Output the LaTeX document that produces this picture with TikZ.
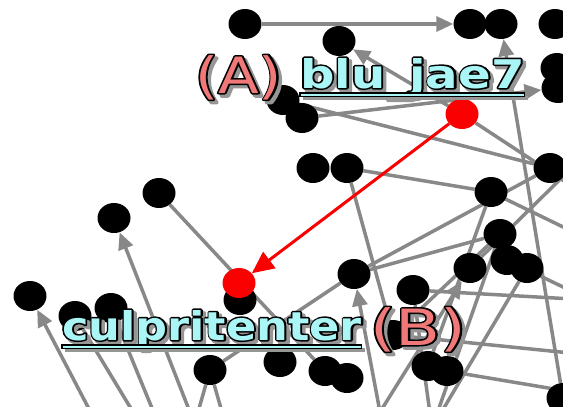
\documentclass[tikz,border=0pt]{standalone}
\usepackage{fontspec}
\usepackage{graphicx}
\setmainfont{DejaVu Sans}
\usetikzlibrary{shapes.geometric,arrows.meta}
\definecolor{edgegray}{RGB}{136,136,136}
\definecolor{hotred}{RGB}{250,0,0}
\definecolor{salmon}{RGB}{240,120,120}
\definecolor{lightcyan}{RGB}{170,245,245}
\definecolor{shadowgray}{RGB}{150,150,150}
\pgfdeclarelayer{edgelayer}
\pgfsetlayers{edgelayer,main}
% text with an outline outside the letters: #1 stroke grey level, #2 stroke width, #3 text
\newcommand\strk[3]{\rlap{\special{pdf:literal direct #1 G #2 w 1 j 1 Tr}#3\special{pdf:literal direct 0 Tr}}#3}
\newcommand\glowlabel[5]{%
  \node[lbl,text=shadowgray] (#1s) at ({#2+3},{#3+3}) {\strk{0.59}{3.6}{#5}};
  \node[lbl,text=#4] (#1) at (#2,#3) {\strk{0}{3.0}{#5}};
}
\newcommand\ulabel[5]{%
  \glowlabel{#1}{#2}{#3}{#4}{#5}
  \fill[shadowgray] ([shift={(3,8)}]#1.base west) rectangle ([shift={(3,12)}]#1.base east);
  \filldraw[fill=#4,draw=black,line width=1.3pt] ([shift={(0,5)}]#1.base west) rectangle ([shift={(0,8.5)}]#1.base east);
}
\begin{document}
\begin{tikzpicture}[x=1pt,y=-1pt,
  dot/.style={ellipse,fill=black,minimum width=33pt,minimum height=30pt,inner sep=0pt},
  reddot/.style={dot,fill=hotred},
  link/.style={draw=edgegray,line width=3.5pt},
  arr/.style={link,-{Triangle[length=17pt,width=15pt]}},
  redarr/.style={draw=hotred,line width=3pt,-{Triangle[length=22pt,width=20pt]}},
  lbl/.style={inner sep=0pt,outer sep=0pt,anchor=base west}]
\useasboundingbox (0,0) rectangle (563,407);
% nodes
\node[dot] (n1) at (245,24) {};
\node[dot] (n2) at (470,24) {};
\node[dot] (n3) at (501,24) {};
\node[dot] (n4) at (555,24) {};
\node[dot] (n5) at (339,41) {};
\node[dot] (n6) at (557,68) {};
\node[dot] (n7) at (558,88) {};
\node[dot] (n8) at (283,100) {};
\node[dot] (n9) at (302,118) {};
\node[reddot] (A) at (462,114) {};
\node[dot] (n10) at (313,168) {};
\node[dot] (n11) at (347,168) {};
\node[dot] (n12) at (159,193) {};
\node[dot] (n13) at (114,218) {};
\node[dot] (n15) at (550,168) {};
\node[dot] (n14) at (491,192) {};
\node[dot] (n16) at (500,234) {};
\node[dot] (n17) at (507,260) {};
\node[dot] (n18) at (527,268) {};
\node[dot] (n19) at (470,268) {};
\node[dot] (n20) at (354,274) {};
\node[dot] (n21) at (240,300) {};
\node[reddot] (B) at (239,283) {};
\node[dot] (n22) at (30,296) {};
\node[dot] (n23) at (75,316) {};
\node[dot] (n24) at (111,308) {};
\node[dot] (n25) at (413,290) {};
\node[dot] (n26) at (393,335) {};
\node[dot] (n27) at (210,370) {};
\node[dot] (n28) at (280,362) {};
\node[dot] (n29) at (325,371) {};
\node[dot] (n30) at (347,378) {};
\node[dot] (n31) at (428,366) {};
\node[dot] (n32) at (447,371) {};
\node[dot] (n33) at (563,398) {};
% off-picture ends
\coordinate (oL1) at (100,430);
\coordinate (oL2) at (195,425);
\coordinate (oL3) at (150,440);
\coordinate (oL3b) at (165,440);
\coordinate (oL4) at (190,440);
\coordinate (oL5) at (230,440);
\coordinate (oM) at (380,412);
\coordinate (oB1) at (432,428);
\coordinate (oR1) at (590,150);
\coordinate (oR2) at (590,198);
\coordinate (oR3) at (590,240);
\coordinate (oR4) at (590,300);
\coordinate (oR5) at (590,355);
\coordinate (oR6) at (590,395);
\begin{pgfonlayer}{edgelayer}
\draw[arr] (n1) -- (n2);
\draw[arr] (A) -- (n5);
\draw[arr] (n9) -- (n7);
\draw[arr] (n33) -- (n3);
\draw[arr] (oL1) -- (n22);
\draw[arr] (oL2) -- (n13);
\draw[arr] (oM) -- (n20);
\draw[arr] (oM) -- (n19);
\draw[link] (n8) -- (n15);
\draw[link] (A) -- (oR2);
\draw[link] (n11) -- (n14);
\draw[link] (n11) -- (n26);
\draw[link] (n12) -- (n29);
\draw[link] (n20) -- (n15);
\draw[link] (n20) -- (n16);
\draw[link] (n20) -- (n27);
\draw[link] (n14) -- (n31);
\draw[link] (n14) -- (oR3);
\draw[link] (n16) -- (n26);
\draw[link] (n17) -- (oR4);
\draw[link] (n18) -- (oB1);
\draw[link] (n25) -- (oR4);
\draw[link] (n26) -- (oR5);
\draw[link] (n32) -- (oR6);
\draw[link] (n23) -- (oL3);
\draw[link] (n24) -- (oL3b);
\draw[link] (n27) -- (oL4);
\draw[link] (n27) -- (oL5);
\draw[link] (oB1) -- (n16);
\draw[link] (oB1) -- (n25);
\draw[link] (n19) -- (oR1);
\end{pgfonlayer}
\draw[redarr] (A) -- (B);
% labels
\glowlabel{labA}{195}{93}{salmon}{\scalebox{1.19}[1]{\fontsize{50}{50}\selectfont (A)}}
\ulabel{labblu}{300}{88}{lightcyan}{\scalebox{1.22}[1]{\fontsize{39.5}{39.5}\selectfont\bfseries blu\_jae7}}
\ulabel{labcul}{62}{340}{lightcyan}{\scalebox{1.13}[1]{\fontsize{39.5}{39.5}\selectfont\bfseries culpritenter}}
\glowlabel{labB}{370}{345}{salmon}{\scalebox{1.31}[1]{\fontsize{50}{50}\selectfont (B)}}
\end{tikzpicture}
\end{document}
